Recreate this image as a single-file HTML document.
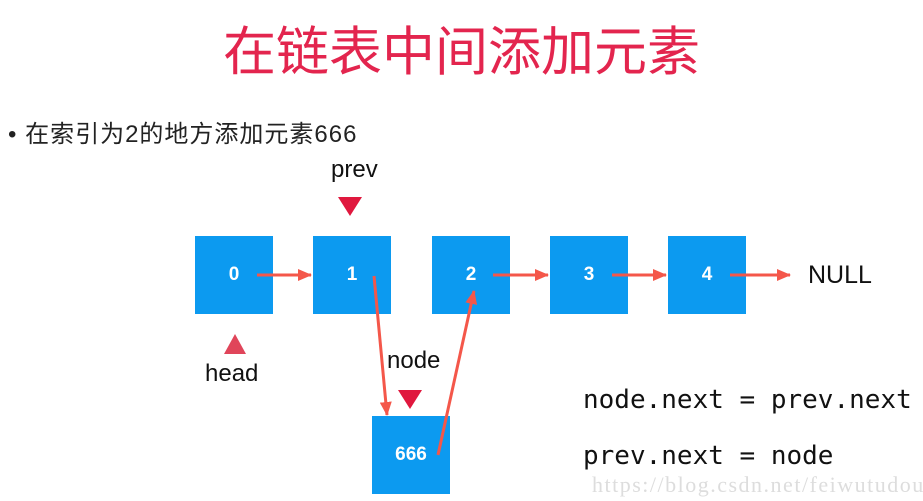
<!DOCTYPE html>
<html><head><meta charset="utf-8"><style>
body{margin:0;width:923px;height:501px;background:#fff;overflow:hidden;position:relative;font-family:"Liberation Sans","Noto Sans CJK SC",sans-serif}
.t{position:absolute;white-space:nowrap}
.b{position:absolute;width:78px;height:78px;background:#0c9af0;color:#fff;font-weight:bold;font-size:19px;display:flex;align-items:center;justify-content:center}
</style></head><body>
<div class="t" style="left:0;width:923px;text-align:center;top:10px;font-size:53px;color:#e3254e">在链表中间添加元素</div>
<div class="t" style="left:8px;top:114px;font-size:24px;color:#222;letter-spacing:1px">• 在索引为2的地方添加元素666</div>
<div class="b" style="left:195px;top:236px">0</div>
<div class="b" style="left:313px;top:236px">1</div>
<div class="b" style="left:432px;top:236px">2</div>
<div class="b" style="left:550px;top:236px">3</div>
<div class="b" style="left:668px;top:236px">4</div>
<div class="b" style="left:372px;top:416px">666</div>
<div class="t" style="left:808px;top:261px;font-size:25px;color:#111">NULL</div>
<div class="t" style="left:331px;top:156px;font-size:24px;color:#111">prev</div>
<div class="t" style="left:205px;top:360px;font-size:24px;color:#111">head</div>
<div class="t" style="left:387px;top:347px;font-size:24px;color:#111">node</div>
<div class="t" style="left:583px;top:385px;font-size:26px;font-family:'DejaVu Sans Mono','Liberation Mono',monospace;color:#111">node.next = prev.next</div>
<div class="t" style="left:583px;top:441px;font-size:26px;font-family:'DejaVu Sans Mono','Liberation Mono',monospace;color:#111">prev.next = node</div>
<div class="t" style="left:592px;top:472px;font-size:22px;font-family:'Liberation Serif',serif;color:#ddd;letter-spacing:1.5px">https://blog.csdn.net/feiwutudou</div>
<svg width="923" height="501" style="position:absolute;left:0;top:0">
<defs><marker id="a" markerWidth="14" markerHeight="12" refX="13" refY="6" orient="auto" markerUnits="userSpaceOnUse"><path d="M0,0L14,6L0,12z" fill="#f4574a"/></marker></defs>
<g stroke="#f4574a" stroke-width="3" fill="none">
<line x1="257" y1="275" x2="311" y2="275" marker-end="url(#a)"/>
<line x1="374" y1="276" x2="387" y2="415" marker-end="url(#a)"/>
<line x1="438" y1="455" x2="474" y2="291" marker-end="url(#a)"/>
<line x1="493" y1="275" x2="548" y2="275" marker-end="url(#a)"/>
<line x1="612" y1="275" x2="666" y2="275" marker-end="url(#a)"/>
<line x1="730" y1="275" x2="790" y2="275" marker-end="url(#a)"/>
</g>
<path d="M338,197L362,197L350,216z" fill="#e0183e"/>
<path d="M398,390L422,390L410,409z" fill="#e0183e"/>
<path d="M224,354L246,354L235,334z" fill="#e0455a"/>
</svg>
</body></html>
